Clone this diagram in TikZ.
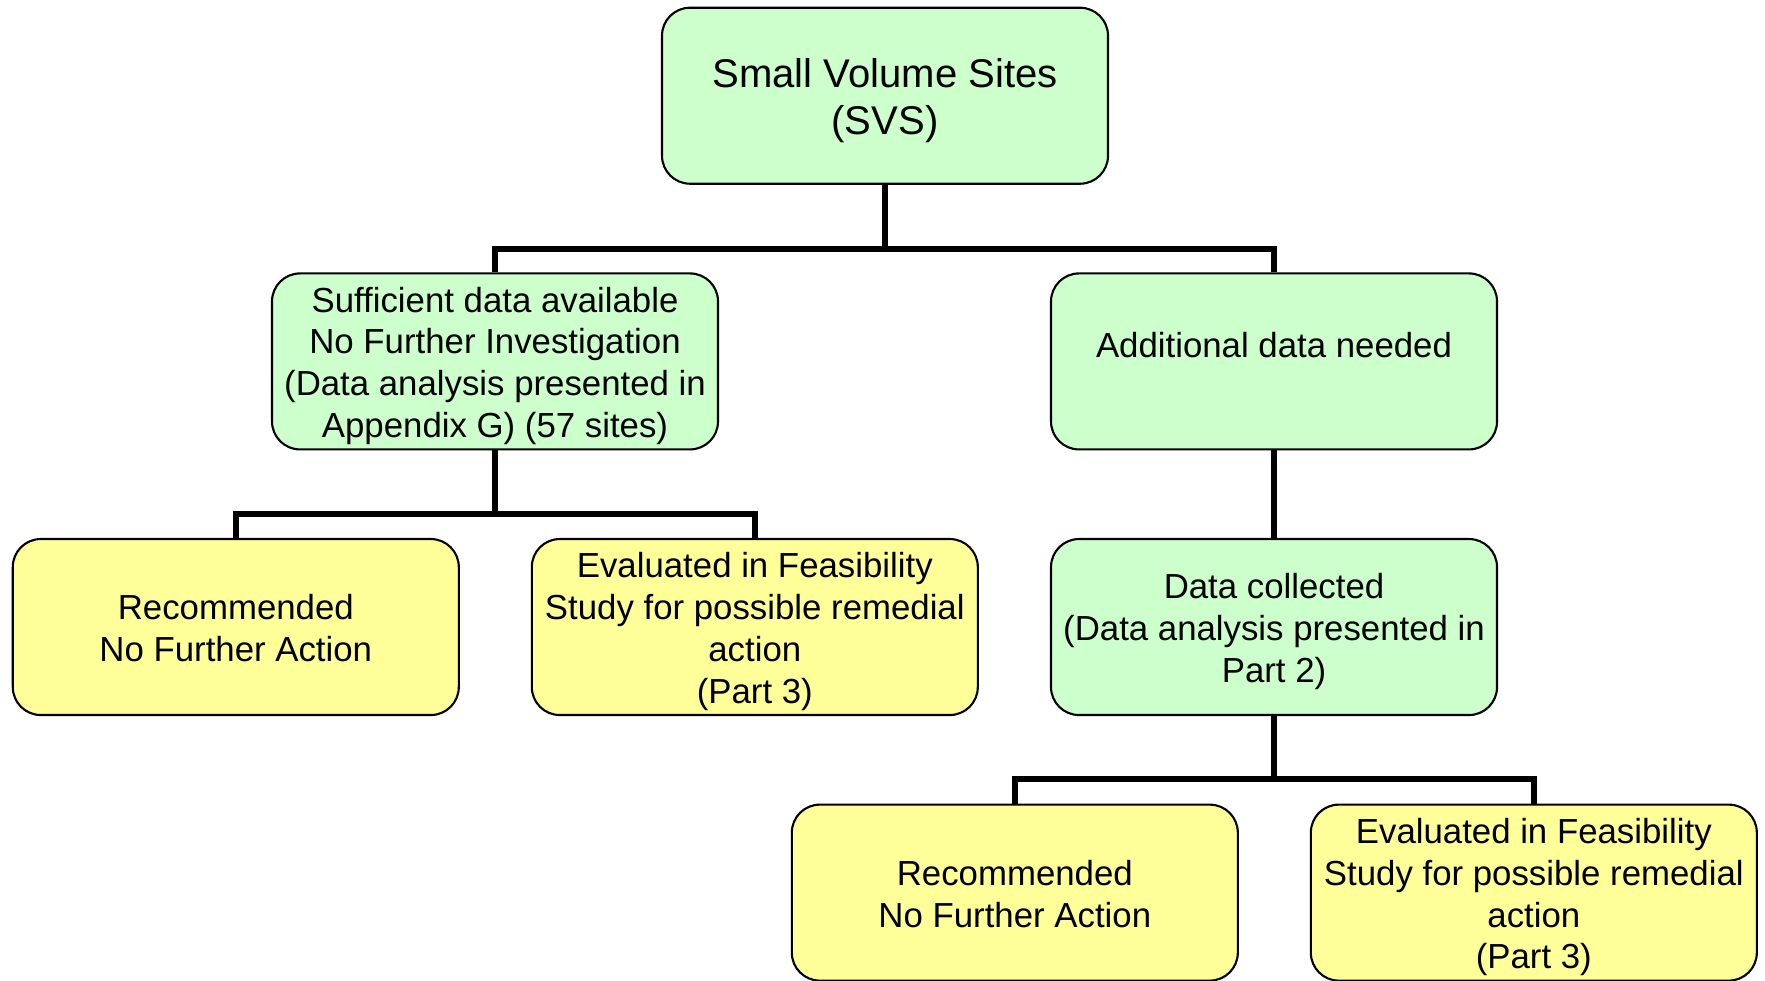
\documentclass[tikz,border=0pt]{standalone}
\usepackage{fontspec}
\setmainfont{Liberation Sans}
\usetikzlibrary{positioning}

\definecolor{boxgreen}{HTML}{CCFFCC}
\definecolor{boxyellow}{HTML}{FFFF99}

% lower the node text a little, keeping its size
\newcommand\sinktext{\dimen0=\ht0 \dimen2=\dp0
  \setbox0=\hbox{\lower0.15em\box0}\ht0=\dimen0 \dp0=\dimen2 \box0}

\tikzset{
  box/.style={draw, line width=0.6pt, rounded corners=0.28cm,
    minimum width=4.46cm, minimum height=1.76cm, inner sep=0pt,
    align=center, font=\fontsize{9.9}{11.9}\selectfont,
    execute at begin node={\setbox0=\hbox\bgroup},
    execute at end node={\rule[-0.25em]{0pt}{0pt}\egroup\sinktext}},
  greenbox/.style={box, fill=boxgreen},
  yellowbox/.style={box, fill=boxyellow},
  link/.style={line width=1.7pt}
}

\begin{document}
\begin{tikzpicture}
    \useasboundingbox (0,0) rectangle (17.65,-9.80);

    % Boxes
    \node[greenbox, font=\fontsize{11.4}{13.5}\selectfont] (svs) at (8.85,-0.957) {Small Volume Sites\\(SVS)};
    \node[greenbox] (suff) at (4.95,-3.614) {Sufficient data available\\No Further Investigation\\(Data analysis presented in\\Appendix G) (57 sites)};
    \node[greenbox] (addl) at (12.74,-3.614) {Additional data needed\\[-2pt]~};
    \node[yellowbox] (recA) at (2.358,-6.27) {Recommended\\No Further Action};
    \node[yellowbox] (evalA) at (7.548,-6.27) {Evaluated in Feasibility\\Study for possible remedial\\action\\(Part 3)};
    \node[greenbox, below=0.875cm of addl] (coll) {Data collected\\(Data analysis presented in\\Part 2)};
    \node[yellowbox] (recB) at (10.148,-8.926) {Recommended\\No Further Action};
    \node[yellowbox] (evalB) at (15.338,-8.926) {Evaluated in Feasibility\\Study for possible remedial\\action\\(Part 3)};

    % Connectors
    \coordinate (forkA) at ([yshift=-0.64cm]svs.south);
    \coordinate (forkB) at ([yshift=-0.64cm]suff.south);
    \coordinate (forkC) at ([yshift=-0.63cm]coll.south);

    \draw[link] (svs.south) -- (forkA) -| (suff.north);
    \draw[link] (forkA) -| (addl.north);
    \draw[link] (suff.south) -- (forkB) -| (recA.north);
    \draw[link] (forkB) -| (evalA.north);
    \draw[link] (addl.south) -- (coll.north);
    \draw[link] (coll.south) -- (forkC) -| (recB.north);
    \draw[link] (forkC) -| (evalB.north);

\end{tikzpicture}
\end{document}
